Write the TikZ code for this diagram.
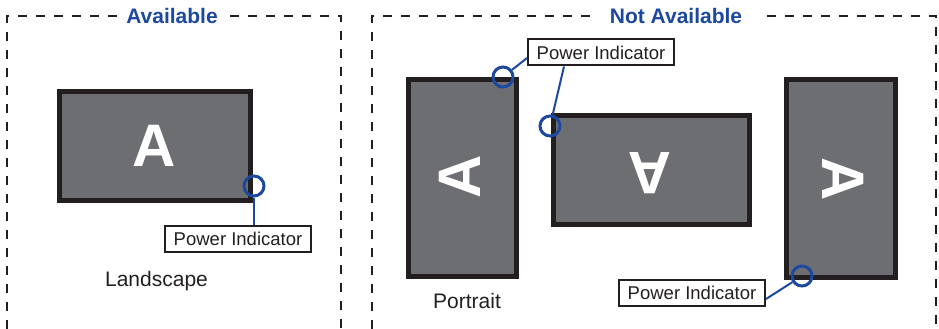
\documentclass[tikz,border=0pt]{standalone}
\usepackage{fontspec}
\setmainfont{Liberation Sans}
\definecolor{dark}{RGB}{35,31,32}
\definecolor{screen}{RGB}{109,110,113}
\definecolor{pblue}{RGB}{28,72,160}
\tikzset{
  frame/.style={draw=dark,line width=2pt,dash pattern=on 9pt off 9pt},
  monitor/.style={draw=dark,fill=screen,line width=5pt,inner sep=0pt,rectangle},
  bigA/.style={text=white,font=\fontsize{60}{60}\selectfont\bfseries,inner sep=0pt},
  title/.style={text=pblue,font=\fontsize{21}{21}\selectfont\bfseries,inner sep=0pt,anchor=base},
  caption/.style={text=dark,font=\fontsize{21}{21}\selectfont,inner sep=0pt,anchor=base},
  pbox/.style={draw=dark,fill=white,line width=2pt,inner sep=0pt,minimum width=146pt,minimum height=26pt,text=dark,font=\fontsize{18.5}{18.5}\selectfont},
  pcirc/.style={circle,draw=pblue,line width=3pt,minimum size=20pt,inner sep=0pt},
  plink/.style={draw=pblue,line width=2pt}
}
\begin{document}
\begin{tikzpicture}[x=1pt,y=-1pt]
\useasboundingbox (0,0) rectangle (939,329);
% frames
\draw[frame] (7,329) -- (7,16) -- (118,16);
\draw[frame] (230,16) -- (341,16) -- (341,329);
\draw[frame] (372,329) -- (372,16) -- (595,16);
\draw[frame] (767,16) -- (936,16) -- (936,329);
\node[title] (tA) at (172,24) {Available};
\node[title] (tN) at (676,24) {Not Available};
% monitors
\node[monitor,minimum width=191pt,minimum height=109pt] (mL) at (155,146) {};
\node[bigA] (aL) at (154.5,145.5) {A};
\node[monitor,minimum width=108pt,minimum height=197pt] (m2) at (462.5,178) {};
\node[bigA,rotate=90] (a2) at (460,176.5) {A};
\node[monitor,minimum width=196pt,minimum height=109pt] (m3) at (651.5,170) {};
\node[bigA,rotate=180] (a3) at (650,173.5) {A};
\node[monitor,minimum width=109pt,minimum height=198pt] (m4) at (841,178.5) {};
\node[bigA,rotate=-90] (a4) at (843,179.5) {A};
% captions
\node[caption] (capL) at (156.5,286) {Landscape};
\node[caption] (capP) at (467,308) {Portrait};
% power indicator boxes
\node[pbox] (pbL) at (238,239) {Power Indicator};
\node[pbox] (pbT) at (601,52.5) {Power Indicator};
\node[pbox] (pbB) at (692,293) {Power Indicator};
% circles
\node[pcirc] (cL) at (254,186) {};
\node[pcirc] (c1) at (503,77) {};
\node[pcirc] (c2) at (550,126) {};
\node[pcirc] (c4) at (802,276) {};
% links
\draw[plink] (cL) -- (cL |- pbL.north);
\draw[plink] (c1) -- ([yshift=-5.5pt]pbT.west);
\draw[plink] ([xshift=-37pt]pbT.south) -- (c2);
\draw[plink] (c4) -- ([yshift=-6pt]pbB.east);
\end{tikzpicture}
\end{document}
